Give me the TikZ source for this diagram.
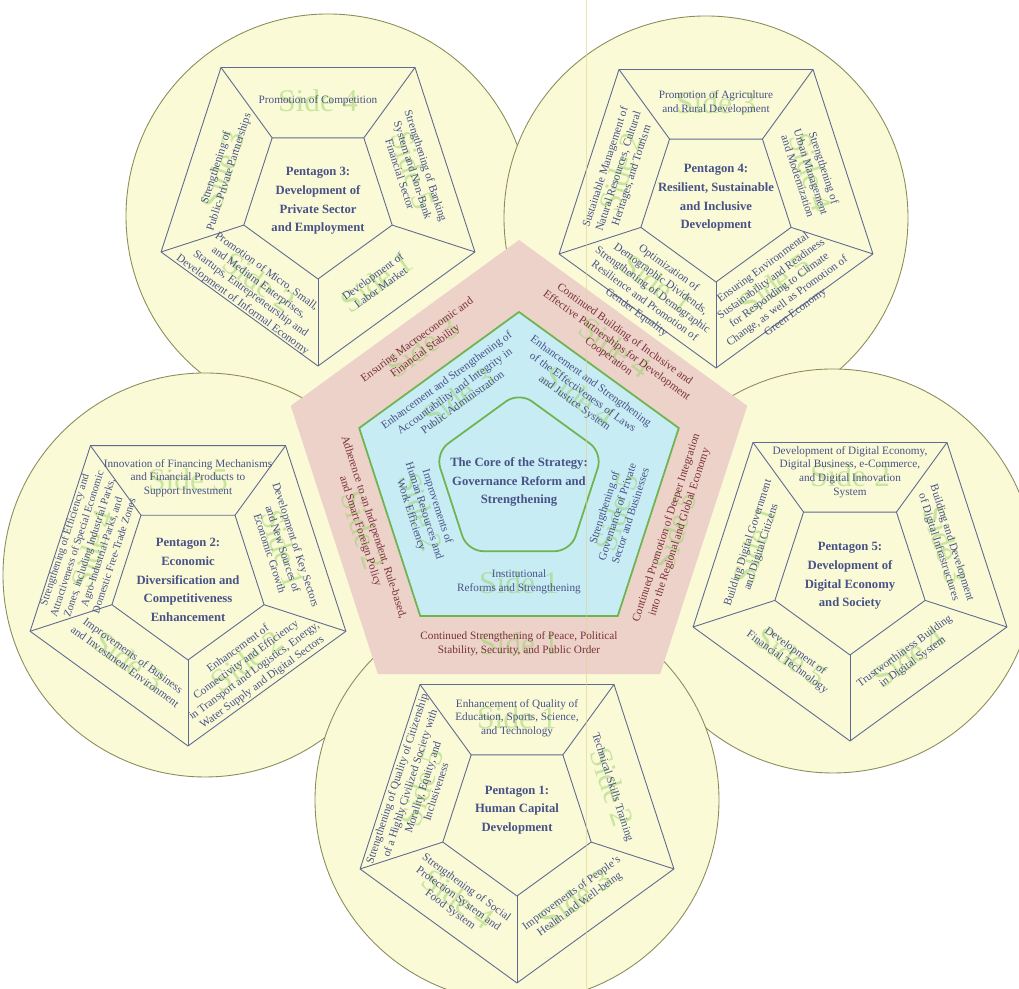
\documentclass[tikz,border=0pt]{standalone}
\usepackage{fontspec}
\setmainfont{Liberation Serif}
\usepackage{tikz}

\definecolor{circfill}{RGB}{250,250,214}
\definecolor{circline}{RGB}{140,140,90}
\definecolor{pentblue}{RGB}{95,105,145}
\definecolor{textblue}{RGB}{72,82,135}
\definecolor{pinkfill}{RGB}{236,210,200}
\definecolor{pinktxt}{RGB}{122,48,62}
\definecolor{bluefill}{RGB}{200,236,244}
\definecolor{greenline}{RGB}{110,180,80}
\definecolor{ghostgreen}{RGB}{150,210,100}
\definecolor{seam}{RGB}{225,210,140}

\tikzset{
  circlebg/.style={fill=circfill,draw=circline,line width=0.5pt},
  pentline/.style={draw=pentblue,line width=0.5pt},
  secttext/.style={text=textblue,align=center,inner sep=0pt,font=\fontsize{6.4}{7.8}\selectfont},
  pinktext/.style={secttext,text=pinktxt},
  titletext/.style={text=textblue,align=center,inner sep=0pt,font=\bfseries\fontsize{7.2}{10.6}\selectfont},
  sidetag/.style={text=ghostgreen,text opacity=0.5,inner sep=0pt,font=\fontsize{18}{18}\selectfont},
}

\begin{document}
\begin{tikzpicture}[x=0.02cm,y=0.02cm]
\useasboundingbox (0,0) rectangle (1019,989);
\clip (0,0) rectangle (1019,989);
\fill[white] (0,0) rectangle (1019,989);

\draw[circlebg] (328,773) circle (202);
\draw[circlebg] (706,771) circle (202);
\draw[circlebg] (205,414) circle (202);
\draw[circlebg] (833,418) circle (202);
\draw[circlebg] (517,189) circle (202);

% Pentagon 3
\begin{scope}[shift={(318,788)}]
  \foreach \a [count=\i] in {54,126,198,270,342} {
    \coordinate (p3o\i) at (\a:165);
    \coordinate (p3i\i) at (\a:78);
  }
  \draw[pentline] (p3o1) -- (p3o2) -- (p3o3) -- (p3o4) -- (p3o5) -- cycle;
  \draw[pentline] (p3i1) -- (p3i2) -- (p3i3) -- (p3i4) -- (p3i5) -- cycle;
  \foreach \i in {1,...,5} \draw[pentline] (p3o\i) -- (p3i\i);
  \foreach \ang/\rot/\num in {90/0/4,18/-72/5,306/36/1,234/-36/2,162/72/3}
    \node[sidetag,rotate=\rot] (p3side\num) at (\ang:100) {Side \num};
  \node[titletext] (p3title) at (0,0) {Pentagon 3:\\Development of\\Private Sector\\and Employment};
  \node[secttext] (p3top) at (90:100) {Promotion of Competition};
  \node[secttext,rotate=-72] (p3right) at (18:100) {Strengthening of Banking\\System and Non-Bank\\Financial Sector};
  \node[secttext,rotate=36] (p3lowright) at (306:100) {Development of\\Labor Market};
  \node[secttext,rotate=-36] (p3lowleft) at (234:108) {Promotion of Micro, Small,\\and Medium Enterprises,\\Startups, Entrepreneurship and\\Development of Informal Economy};
  \node[secttext,rotate=72] (p3left) at (162:100) {Strengthening of\\Public-Private Partnerships};
\end{scope}

% Pentagon 4
\begin{scope}[shift={(716,786)}]
  \foreach \a [count=\i] in {54,126,198,270,342} {
    \coordinate (p4o\i) at (\a:165);
    \coordinate (p4i\i) at (\a:79);
  }
  \draw[pentline] (p4o1) -- (p4o2) -- (p4o3) -- (p4o4) -- (p4o5) -- cycle;
  \draw[pentline] (p4i1) -- (p4i2) -- (p4i3) -- (p4i4) -- (p4i5) -- cycle;
  \foreach \i in {1,...,5} \draw[pentline] (p4o\i) -- (p4i\i);
  \foreach \ang/\rot/\num in {90/0/3,18/-72/4,306/36/5,234/-36/1,162/72/2}
    \node[sidetag,rotate=\rot] (p4side\num) at (\ang:100) {Side \num};
  \node[titletext] (p4title) at (0,5) {Pentagon 4:\\Resilient, Sustainable\\and Inclusive\\Development};
  \node[secttext] (p4top) at (90:100) {Promotion of Agriculture\\and Rural Development};
  \node[secttext,rotate=-72] (p4right) at (18:100) {Strengthening of\\Urban Management\\and Modernization};
  \node[secttext,rotate=36] (p4lowright) at (306:108) {Ensuring Environmental\\Sustainability and Readiness\\for Responding to Climate\\Change, as well as Promotion of\\Green Economy};
  \node[secttext,rotate=-36] (p4lowleft) at (234:108) {Optimization of\\Demographic Dividends,\\Strengthening of Demographic\\Resilience and Promotion of\\Gender Equality};
  \node[secttext,rotate=72] (p4left) at (162:102) {Sustainable Management of\\Natural Resources, Cultural\\Heritages, and Tourism};
\end{scope}

% Pentagon 2
\begin{scope}[shift={(188,409)}]
  \foreach \a [count=\i] in {54,126,198,270,342} {
    \coordinate (p2o\i) at (\a:166);
    \coordinate (p2i\i) at (\a:80);
  }
  \draw[pentline] (p2o1) -- (p2o2) -- (p2o3) -- (p2o4) -- (p2o5) -- cycle;
  \draw[pentline] (p2i1) -- (p2i2) -- (p2i3) -- (p2i4) -- (p2i5) -- cycle;
  \foreach \i in {1,...,5} \draw[pentline] (p2o\i) -- (p2i\i);
  \foreach \ang/\rot/\num in {90/0/5,18/-72/1,306/36/2,234/-36/3,162/72/4}
    \node[sidetag,rotate=\rot] (p2side\num) at (\ang:100) {Side \num};
  \node[titletext] (p2title) at (0,0) {Pentagon 2:\\Economic\\Diversification and\\Competitiveness\\Enhancement};
  \node[secttext] (p2top) at (90:102) {Innovation of Financing Mechanisms\\and Financial Products to\\Support Investment};
  \node[secttext,rotate=-72] (p2right) at (18:100) {Development of Key Sectors\\and New Sources of\\Economic Growth};
  \node[secttext,rotate=36] (p2lowright) at (306:106) {Enhancement of\\Connectivity and Efficiency\\in Transport and Logistics, Energy,\\Water Supply and Digital Sectors};
  \node[secttext,rotate=-36] (p2lowleft) at (234:100) {Improvements of Business\\and Investment Environment};
  \node[secttext,rotate=72,font=\fontsize{6.1}{7.4}\selectfont] (p2left) at (162:104) {Strengthening of Efficiency and\\Attractiveness of Special Economic\\Zones, including Industrial Parks,\\Agro-Industrial Parks, and\\Domestic Free-Trade Zones};
\end{scope}

% Pentagon 5
\begin{scope}[shift={(850,413)}]
  \foreach \a [count=\i] in {54,126,198,270,342} {
    \coordinate (p5o\i) at (\a:165);
    \coordinate (p5i\i) at (\a:79);
  }
  \draw[pentline] (p5o1) -- (p5o2) -- (p5o3) -- (p5o4) -- (p5o5) -- cycle;
  \draw[pentline] (p5i1) -- (p5i2) -- (p5i3) -- (p5i4) -- (p5i5) -- cycle;
  \foreach \i in {1,...,5} \draw[pentline] (p5o\i) -- (p5i\i);
  \foreach \ang/\rot/\num in {90/0/2,18/-72/3,306/36/4,234/-36/5,162/72/1}
    \node[sidetag,rotate=\rot] (p5side\num) at (\ang:100) {Side \num};
  \node[titletext] (p5title) at (0,0) {Pentagon 5:\\Development of\\Digital Economy\\and Society};
  \node[secttext] (p5top) at (90:104) {Development of Digital Economy,\\Digital Business, e-Commerce,\\and Digital Innovation\\System};
  \node[secttext,rotate=-72] (p5right) at (18:100) {Building and Development\\of Digital Infrastructures};
  \node[secttext,rotate=36] (p5lowright) at (306:100) {Trustworthiness Building\\in Digital System};
  \node[secttext,rotate=-36] (p5lowleft) at (234:100) {Development of\\Financial Technology};
  \node[secttext,rotate=72] (p5left) at (162:100) {Building Digital Government\\and Digital Citizens};
\end{scope}

% Pentagon 1
\begin{scope}[shift={(517,171)}]
  \foreach \a [count=\i] in {54,126,198,270,342} {
    \coordinate (p1o\i) at (\a:165);
    \coordinate (p1i\i) at (\a:78);
  }
  \draw[pentline] (p1o1) -- (p1o2) -- (p1o3) -- (p1o4) -- (p1o5) -- cycle;
  \draw[pentline] (p1i1) -- (p1i2) -- (p1i3) -- (p1i4) -- (p1i5) -- cycle;
  \foreach \i in {1,...,5} \draw[pentline] (p1o\i) -- (p1i\i);
  \foreach \ang/\rot/\num in {90/0/1,18/-72/2,306/36/3,234/-36/4,162/72/5}
    \node[sidetag,rotate=\rot] (p1side\num) at (\ang:100) {Side \num};
  \node[titletext] (p1title) at (0,8) {Pentagon 1:\\Human Capital\\Development};
  \node[secttext] (p1top) at (90:100) {Enhancement of Quality of\\Education, Sports, Science,\\and Technology};
  \node[secttext,rotate=-72] (p1right) at (18:100) {Technical Skills Training};
  \node[secttext,rotate=36] (p1lowright) at (306:100) {Improvements of People's\\Health and Well-being};
  \node[secttext,rotate=-36] (p1lowleft) at (234:100) {Strengthening of Social\\Protection System and\\Food System};
  \node[secttext,rotate=72] (p1left) at (162:106) {Strengthening of Quality of Citizenship\\of a Highly Civilized Society with\\Morality, Equity, and\\Inclusiveness};
\end{scope}

% core of the strategy
\begin{scope}[shift={(519,509)}]
  \fill[pinkfill] (90:240) -- (162:240) -- (234:240) -- (306:240) -- (18:240) -- cycle;
  \filldraw[fill=bluefill,draw=greenline,line width=1pt] (90:168) -- (162:168) -- (234:168) -- (306:168) -- (18:168) -- cycle;
  \draw[greenline,line width=1pt,rounded corners=9pt] (90:88) -- (162:88) -- (234:88) -- (306:88) -- (18:88) -- cycle;
  \foreach \ang/\rot/\num in {270/0/1,198/-72/2,126/36/3,54/-36/4,342/72/5} {
    \node[sidetag,rotate=\rot] (pkside\num) at (\ang:164) {Side \num};
    \node[sidetag,rotate=\rot] (blside\num) at (\ang:103) {Side \num};
  }
\end{scope}
\draw[seam,line width=0.4pt,opacity=0.6] (586,0) -- (586,989);
\begin{scope}[shift={(519,509)}]
  \node[titletext] (core) at (0,-2) {The Core of the Strategy:\\Governance Reform and\\Strengthening};
  \node[pinktext] (pkbottom) at (270:164) {Continued Strengthening of Peace, Political\\Stability, Security, and Public Order};
  \node[pinktext,rotate=72] (pklowright) at (342:162) {Continued Promotion of Deeper Integration\\into the Regional and Global Economy};
  \node[pinktext,rotate=-36] (pkupright) at (54:166) {Continued Building of Inclusive and\\Effective Partnerships for Development\\Cooperation};
  \node[pinktext,rotate=36] (pkupleft) at (126:166) {Ensuring Macroeconomic and\\Financial Stability};
  \node[pinktext,rotate=-72] (pklowleft) at (198:160) {Adherence to an Independent, Rule-based,\\and Smart Foreign Policy};
  \node[secttext] (blbottom) at (270:102) {Institutional\\Reforms and Strengthening};
  \node[secttext,rotate=72] (bllowright) at (342:103) {Strengthening of\\Governance of Private\\Sector and Businesses};
  \node[secttext,rotate=-36] (blupright) at (54:108) {Enhancement and Strengthening\\of the Effectiveness of Laws\\and Justice System};
  \node[secttext,rotate=36] (blupleft) at (126:110) {Enhancement and Strengthening of\\Accountability and Integrity in\\Public Administration};
  \node[secttext,rotate=-72] (bllowleft) at (198:100) {Improvements of\\Human Resources and\\Work Efficiency};
\end{scope}
\end{tikzpicture}
\end{document}
